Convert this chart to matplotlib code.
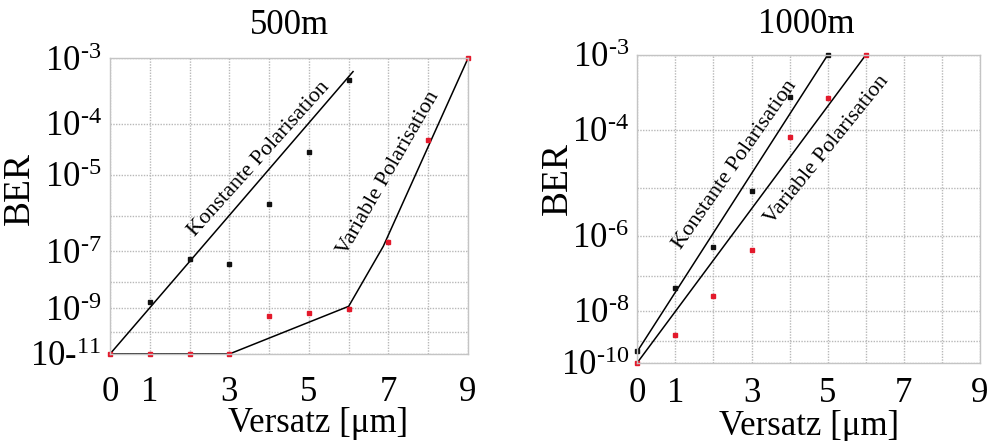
import numpy as np
import matplotlib
matplotlib.use("Agg")
import matplotlib.pyplot as plt

plt.rcParams['font.family'] = ['Liberation Serif', 'DejaVu Serif']
plt.rcParams['mathtext.fontset'] = 'custom'
plt.rcParams['mathtext.rm'] = 'Liberation Serif'
plt.rcParams['mathtext.it'] = 'Liberation Serif:italic'

# 500 m
k500_x = [1, 2, 3, 4, 5, 6]
k500_ber = [1.8e-9, 5.6e-8, 3.8e-8, 2.0e-6, 3.0e-5, 5.0e-4]
v500_x = [0, 1, 2, 3, 4, 5, 6, 7, 8, 9]
v500_ber = [1e-11, 1e-11, 1e-11, 1e-11, 4.9e-10, 6.6e-10, 9.1e-10, 1.9e-7, 5.0e-5, 1e-3]
k500_fit_x = [0, 6.11]
k500_fit_ber = [1e-11, 6.6e-4]
v500_fit_x = [0, 3, 6, 6.87, 9]
v500_fit_ber = [1e-11, 1e-11, 1.2e-9, 1.4e-7, 1e-3]

# 1000 m
k1000_x = [0, 1, 2, 3, 4, 5]
k1000_ber = [4.4e-10, 4.6e-8, 5.5e-7, 8.8e-6, 3.0e-4, 1e-3]
v1000_x = [0, 1, 2, 3, 4, 5, 6]
v1000_ber = [1.7e-10, 1.7e-9, 2.7e-8, 4.6e-7, 7.8e-5, 2.9e-4, 1e-3]
k1000_fit_x = [0, 5]
k1000_fit_ber = [4.4e-10, 1e-3]
v1000_fit_x = [0, 6]
v1000_fit_ber = [1.7e-10, 1e-3]

x_ticks = [0, 1, 2, 3, 4, 5, 6, 7, 8, 9]
x_ticklabels = ['0', '1', '', '3', '', '5', '', '7', '', '9']

y500_ticks = [1e-3, 1e-4, 1e-5, 1e-6, 1e-7, 1e-8, 1e-9, 1e-10, 1e-11]
y500_labels = [r'$10^{\text{-3}}$', r'$10^{\text{-4}}$', r'$10^{\text{-5}}$', '',
               r'$10^{\text{-7}}$', '', r'$10^{\text{-9}}$', '', r'10-$^{11}$']
y1000_ticks = [1e-3, 1e-4, 1e-5, 1e-6, 1e-7, 1e-8, 1e-9, 1.7e-10]
y1000_labels = [r'$10^{\text{-3}}$', r'$10^{\text{-4}}$', '', r'$10^{\text{-6}}$', '',
                r'$10^{\text{-8}}$', '', r'$10^{\text{-10}}$']


def fwd(y):
    with np.errstate(all='ignore'):
        return -np.log10(-np.log10(y))


def inv(t):
    return 10.0 ** (-(10.0 ** (-t)))


RED = '#e3192b'
GRID = '#b8b8b8'

fig = plt.figure(figsize=(9.93, 4.41), dpi=100)
ax1 = fig.add_axes([0.1108, 0.1973, 0.3605, 0.6705])
ax2 = fig.add_axes([0.6418, 0.1776, 0.3451, 0.6977])


def style(ax, yticks, ylabels, ylim):
    ax.set_yscale('function', functions=(fwd, inv))
    ax.set_ylim(*ylim)
    ax.set_xlim(0, 9)
    ax.set_xticks(x_ticks)
    ax.set_xticklabels(x_ticklabels)
    ax.set_yticks(yticks)
    ax.set_yticklabels(ylabels)
    ax.minorticks_off()
    ax.grid(True, color=GRID, linestyle=(0, (1, 1)), linewidth=1.0)
    ax.set_axisbelow(True)
    ax.tick_params(length=0, labelsize=25)
    ax.tick_params(axis='y', pad=6)
    for s in ax.spines.values():
        s.set_color('#c4c4c4')
        s.set_linewidth(1.0)


style(ax1, y500_ticks, y500_labels, (1e-11, 1e-3))
ax1.tick_params(axis='x', pad=16)
ax1.plot(k500_fit_x, k500_fit_ber, color='k', lw=1.1, clip_on=False)
ax1.plot(v500_fit_x, v500_fit_ber, color='k', lw=1.1, clip_on=False)
ax1.plot(k500_x, k500_ber, 's', color='#111111', ms=3.5, clip_on=False)
ax1.plot(v500_x, v500_ber, 's', color=RED, ms=3.5, clip_on=False)
ax1.set_title('500m', fontsize=25, x=0.5, y=1.111, va='center', pad=0)
ax1.set_xlabel('Versatz [μm]', fontsize=25)
ax1.xaxis.set_label_coords(0.58, -0.18)
ax1.set_ylabel('BER', fontsize=27)
ax1.yaxis.set_label_coords(-0.204, 0.561)
ax1.text(0.416, 0.661, 'Konstante Polarisation', transform=ax1.transAxes,
         rotation=48, fontsize=16, ha='center', va='center')
ax1.text(0.779, 0.610, 'Variable Polarisation', transform=ax1.transAxes,
         rotation=60, fontsize=16, ha='center', va='center')

style(ax2, y1000_ticks, y1000_labels, (1.7e-10, 1e-3))
ax2.tick_params(axis='x', pad=10)
ax2.plot(k1000_fit_x, k1000_fit_ber, color='k', lw=1.1, clip_on=False)
ax2.plot(v1000_fit_x, v1000_fit_ber, color='k', lw=1.1, clip_on=False)
ax2.plot(k1000_x, k1000_ber, 's', color='#111111', ms=3.5, clip_on=False)
ax2.plot(v1000_x, v1000_ber, 's', color=RED, ms=3.5, clip_on=False)
ax2.set_title('1000m', fontsize=25, x=0.492, y=1.0975, va='center', pad=0)
ax2.set_xlabel('Versatz [μm]', fontsize=25)
ax2.xaxis.set_label_coords(0.501, -0.153)
ax2.set_ylabel('BER', fontsize=27)
ax2.yaxis.set_label_coords(-0.182, 0.600)
ax2.text(0.285, 0.642, 'Konstante Polarisation', transform=ax2.transAxes,
         rotation=55, fontsize=16, ha='center', va='center')
ax2.text(0.554, 0.691, 'Variable Polarisation', transform=ax2.transAxes,
         rotation=51, fontsize=16, ha='center', va='center')

fig.savefig('out.png', dpi=100)
